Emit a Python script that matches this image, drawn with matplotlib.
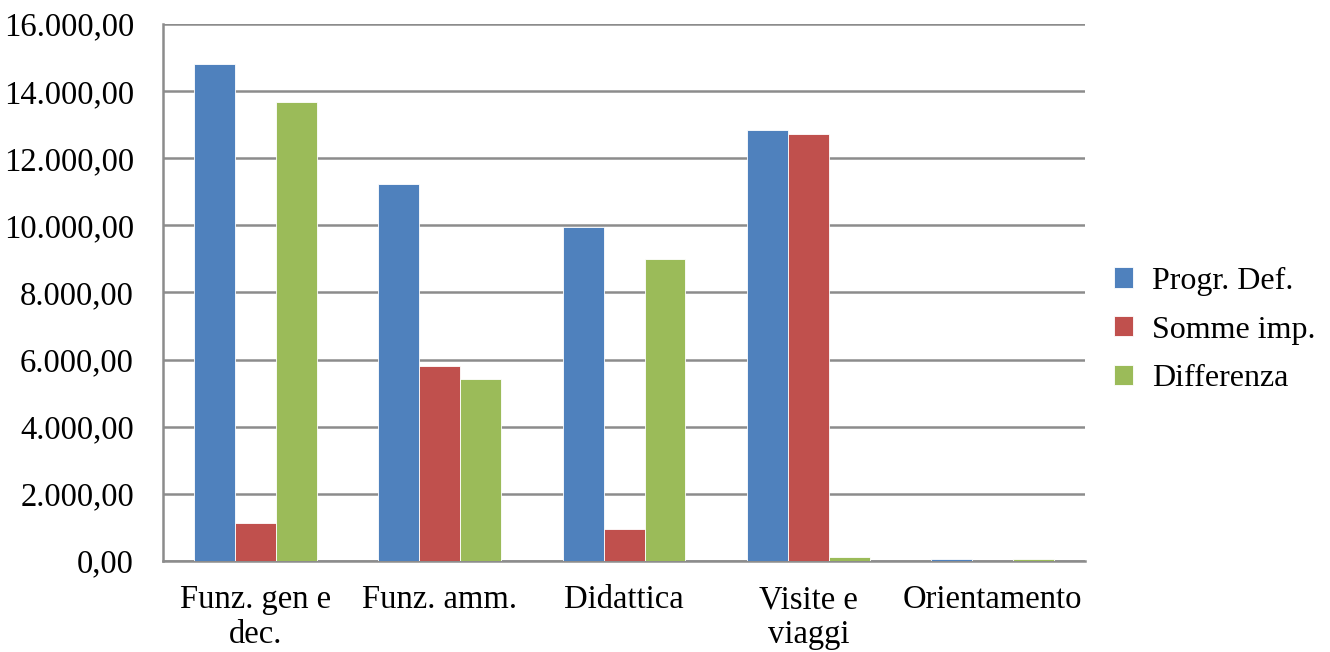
import numpy as np
import matplotlib.pyplot as plt
from matplotlib.ticker import FuncFormatter

categories = ["Funz. gen e\ndec.", "Funz. amm.", "Didattica", "Visite e\nviaggi", "Orientamento"]
series_names = ["Progr. Def.", "Somme imp.", "Differenza"]
progr_def = [14800, 11230, 9950, 12840, 60]
somme_imp = [1130, 5810, 950, 12720, 0]
differenza = [13670, 5420, 9000, 120, 60]
colors = ["#4F81BD", "#C0504D", "#9BBB59"]

plt.rcParams['font.family'] = ['Liberation Serif', 'DejaVu Serif']

fig = plt.figure(figsize=(13.3, 6.52), dpi=100)
ax = fig.add_axes([0.1226, 0.1396, 0.8158 - 0.1226, 0.9632 - 0.1396])

x = np.arange(len(categories))
w = 0.222
for i, (vals, name) in enumerate(zip([progr_def, somme_imp, differenza], series_names)):
    ax.bar(x + (i - 1) * w, vals, width=w, color=colors[i], label=name,
           edgecolor="white", linewidth=0.6, zorder=3)

ax.set_xlim(-0.5, len(categories) - 0.5)
ax.set_ylim(0, 16000)
ax.set_yticks(np.arange(0, 16001, 2000))


def it_fmt(v, pos):
    s = f"{v:,.2f}"
    return s.replace(",", "X").replace(".", ",").replace("X", ".")


ax.yaxis.set_major_formatter(FuncFormatter(it_fmt))
ax.set_xticks(x)
ax.set_xticklabels(categories, linespacing=1.2)
ax.tick_params(axis="both", length=0, labelsize=23.5)
ax.tick_params(axis="y", pad=21)
ax.tick_params(axis="x", pad=17)

ax.grid(axis="y", color="#8c8c8c", linewidth=1.8, zorder=0)
for s in ["top", "right"]:
    ax.spines[s].set_visible(False)
ax.spines["left"].set_color("#8c8c8c")
ax.spines["left"].set_linewidth(1.8)
ax.spines["bottom"].set_color("#8c8c8c")
ax.spines["bottom"].set_linewidth(1.8)

ax.legend(loc="center left", bbox_to_anchor=(1.0, 0.43), frameon=False,
          fontsize=23, handlelength=0.6, handleheight=0.6, handletextpad=0.6,
          labelspacing=0.62)

fig.savefig("out.png", dpi=100)
